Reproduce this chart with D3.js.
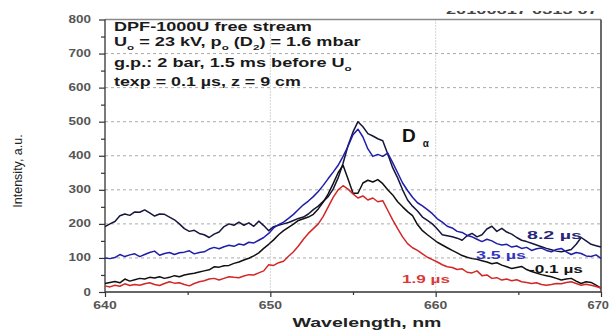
<!DOCTYPE html>
<html>
<head>
<meta charset="utf-8">
<script src="https://cdn.jsdelivr.net/npm/d3@7/dist/d3.min.js"></script>
<style>
  body { margin: 0; background: #fff; }
  svg { display: block; }
  text { font-family: "Liberation Sans", Arial, sans-serif; }
</style>
</head>
<body>
<svg id="chart" width="610" height="331"></svg>
<script>
// Spectrometer sampling grid (nm)
const lambdaStart = 640, lambdaStep = 0.3, lambdaCount = 101;

// D-alpha line profiles, intensity in a.u., one value per grid point
const s82 = [192,200,207,224,229,225,235,234,241,232,223,229,228,220,212,200,186,178,181,172,
             168,160,170,176,192,200,196,205,196,203,193,208,195,180,192,196,200,204,210,216,
             220,229,242,252,266,280,302,335,378,430,470,500,485,465,458,450,444,405,365,335,
             300,270,252,238,220,210,200,185,168,165,162,158,152,165,172,162,168,185,193,178,
             187,176,170,160,152,148,143,138,133,128,124,120,118,121,125,140,160,150,140,136,132];
const s35 = [100,98,101,110,104,109,112,104,110,116,120,108,113,116,110,115,117,121,112,116,
             118,126,131,127,133,137,134,141,138,146,144,152,160,172,188,198,205,216,228,242,
             256,267,280,295,313,333,352,372,398,428,462,478,455,420,398,404,398,408,380,350,
             320,298,278,262,253,242,230,215,205,193,188,178,175,166,162,155,148,155,150,142,
             138,140,132,135,128,131,122,127,129,122,118,125,128,118,110,116,113,106,104,109,99];
const sm01 = [25,28,31,27,38,32,36,40,38,43,41,45,40,43,48,45,50,53,55,59,
              62,65,74,73,77,78,84,88,94,99,106,115,128,140,153,168,180,190,199,210,
              215,220,228,244,264,288,318,350,372,332,290,290,320,328,323,330,318,300,285,265,
              250,236,224,198,180,168,157,146,138,130,122,115,107,102,98,96,92,88,83,86,
              79,74,69,72,75,66,60,56,51,48,45,40,35,38,40,32,25,30,28,20,11];
const s19 = [18,15,20,17,24,19,22,20,24,27,22,19,25,30,26,27,22,18,25,30,
             33,38,40,35,40,45,43,42,47,51,50,56,62,80,78,86,90,105,118,135,
             155,172,186,200,222,250,278,300,312,302,288,276,282,270,276,265,268,240,212,186,
             162,142,130,122,112,102,95,88,80,74,72,66,68,58,56,62,48,50,40,42,
             35,38,33,36,30,28,25,27,22,20,22,25,24,28,30,25,20,23,20,16,12];

const seriesNames  = ["8.2 \u00b5s", "3.5 \u00b5s", "-0.1 \u00b5s", "1.9 \u00b5s"];
const seriesValues = [s82, s35, sm01, s19];
const lineColors   = ["#16163c", "#1e1eaa", "#101010", "#d42626"];
const labelColors  = ["#26267a", "#3434c0", "#151515", "#d83a3a"];

const xTicks = [640, 650, 660, 670];
const xMinor = [645, 655, 665];
const yTicks = [0, 100, 200, 300, 400, 500, 600, 700, 800];
const yMinor = [50, 150, 250, 350, 450, 550, 650, 750];

const svg = d3.select("#chart");
const plot = { left: 105, right: 601, top: 19.5, bottom: 292 };

const x = d3.scaleLinear().domain([640, 670]).range([plot.left, plot.right]);
const y = d3.scaleLinear().domain([0, 800]).range([plot.bottom, plot.top]);

// Stretch a text element horizontally so that it spans a given width
function fitWidth(sel, tx, ty, width) {
  const w = sel.node().getBBox().width;
  sel.attr("transform", `translate(${tx},${ty}) scale(${width / w},1)`);
  return sel;
}

// Grid
svg.append("g").selectAll("line")
  .data(yTicks.filter(v => v > 0 && v < 800))
  .join("line")
  .attr("x1", plot.left).attr("x2", plot.right)
  .attr("y1", d => y(d)).attr("y2", d => y(d))
  .attr("stroke", "#aaa").attr("stroke-width", 1).attr("stroke-dasharray", "3,3");
svg.append("g").selectAll("line")
  .data([650, 660])
  .join("line")
  .attr("x1", d => x(d)).attr("x2", d => x(d))
  .attr("y1", plot.top).attr("y2", plot.bottom)
  .attr("stroke", "#aaa").attr("stroke-width", 1).attr("stroke-dasharray", "1,2");

// Frame
svg.append("line").attr("x1", plot.left).attr("x2", plot.right)
  .attr("y1", plot.top).attr("y2", plot.top)
  .attr("stroke", "#8a8a8a").attr("stroke-width", 1.5);
svg.append("line").attr("x1", plot.right).attr("x2", plot.right)
  .attr("y1", plot.top).attr("y2", plot.bottom)
  .attr("stroke", "#6a6a6a").attr("stroke-width", 2);

// Axes
const axisColor = "#333";
const yAxis = svg.append("g").attr("transform", `translate(${plot.left},0)`)
  .call(d3.axisLeft(y).tickValues(yTicks).tickSize(6).tickFormat(""));
const yAxisMinor = svg.append("g").attr("transform", `translate(${plot.left},0)`)
  .call(d3.axisLeft(y).tickValues(yMinor).tickSize(4).tickFormat(""));
const xAxis = svg.append("g").attr("transform", `translate(0,${plot.bottom})`)
  .call(d3.axisBottom(x).tickValues(xTicks).tickSize(5).tickFormat(""));
const xAxisMinor = svg.append("g").attr("transform", `translate(0,${plot.bottom})`)
  .call(d3.axisBottom(x).tickValues(xMinor).tickSize(3).tickFormat(""));
[yAxis, yAxisMinor, xAxis, xAxisMinor].forEach(g => {
  g.selectAll("path").attr("stroke", axisColor).attr("stroke-width", 1.3);
  g.selectAll("line").attr("stroke", axisColor).attr("stroke-width", 1.2);
});
yAxisMinor.select("path").remove();
xAxisMinor.select("path").remove();
yAxis.select("path").attr("d", `M0,${plot.top}V${plot.bottom}`);
xAxis.select("path").attr("d", `M${plot.left},0H${plot.right}`);

// Tick labels
yTicks.forEach(v => {
  const t = svg.append("text").text(v)
    .attr("text-anchor", "end").attr("font-size", 10).attr("font-weight", "bold")
    .attr("fill", "#555");
  fitWidth(t, 91, y(v) + 3.5, v === 0 ? 8 : 23);
});
xTicks.forEach((v, i) => {
  const last = i === xTicks.length - 1;
  const t = svg.append("text").text(v)
    .attr("text-anchor", last ? "end" : "middle").attr("font-size", 10).attr("font-weight", "bold")
    .attr("fill", "#555");
  fitWidth(t, last ? 609 : x(v), 309, last ? 22 : 24);
});

// Axis titles
fitWidth(svg.append("text").text("Wavelength, nm")
  .attr("text-anchor", "middle").attr("font-size", 13).attr("font-weight", "bold")
  .attr("fill", "#222"), 367, 327, 149);
svg.append("text").text("Intensity, a.u.")
  .attr("text-anchor", "middle").attr("font-size", 12.5)
  .attr("fill", "#222")
  .attr("transform", "translate(22,171) rotate(-90)");

// Spectra
const line = d3.line()
  .x((d, i) => x(lambdaStart + i * lambdaStep))
  .y(d => y(d));
seriesValues.forEach((vals, k) => {
  svg.append("path").datum(vals.slice(0, lambdaCount))
    .attr("d", line)
    .attr("fill", "none")
    .attr("stroke", lineColors[k])
    .attr("stroke-width", 1.5)
    .attr("stroke-linejoin", "round");
});

// Curve labels
const labelPos = [[527, 239, 55], [476, 259, 50], [529, 273, 54], [402, 283, 48]];
seriesNames.forEach((name, k) => {
  const t = svg.append("text").text(name)
    .attr("font-size", 11).attr("font-weight", "bold").attr("fill", labelColors[k]);
  fitWidth(t, labelPos[k][0], labelPos[k][1], labelPos[k][2]);
});

// D-alpha marker
const da = svg.append("text").attr("font-weight", "bold").attr("fill", "#111");
da.append("tspan").attr("font-size", 19).text("D");
da.append("tspan").attr("font-size", 10).attr("dx", 7).attr("dy", 5).text("\u03b1");
da.attr("transform", "translate(402,142)");

// Discharge conditions
function block(parts, tx, ty, width) {
  const t = svg.append("text").attr("font-size", 12.5).attr("font-weight", "bold").attr("fill", "#1a1a1a");
  parts.forEach(p => {
    const s = t.append("tspan").text(p[0]);
    if (p[1] === "sub") s.attr("font-size", 8).attr("dy", 4);
    if (p[1] === "up") s.attr("dy", -4);
  });
  return fitWidth(t, tx, ty, width);
}
block([["DPF-1000U free stream"]], 114, 31, 198);
block([["U"], ["o", "sub"], [" = 23 kV, p", "up"], ["o", "sub"], [" (D", "up"], ["2", "sub"], [") = 1.6 mbar", "up"]], 114, 46, 247);
block([["g.p.: 2 bar, 1.5 ms before U"], ["o", "sub"]], 114, 67, 238);
block([["texp = 0.1 \u00b5s, z = 9 cm"]], 114, 86, 187);

// Shot stamp along the top edge, mostly cut off by the page
svg.append("defs").append("clipPath").attr("id", "stampClip")
  .append("rect").attr("x", 0).attr("y", 11).attr("width", 610).attr("height", 8);
const stamp = svg.append("g").attr("clip-path", "url(#stampClip)")
  .append("text").text("20100617 0313 07")
  .attr("font-size", 11).attr("font-weight", "bold").attr("fill", "#444");
fitWidth(stamp, 446, 14, 152);
</script>
</body>
</html>
